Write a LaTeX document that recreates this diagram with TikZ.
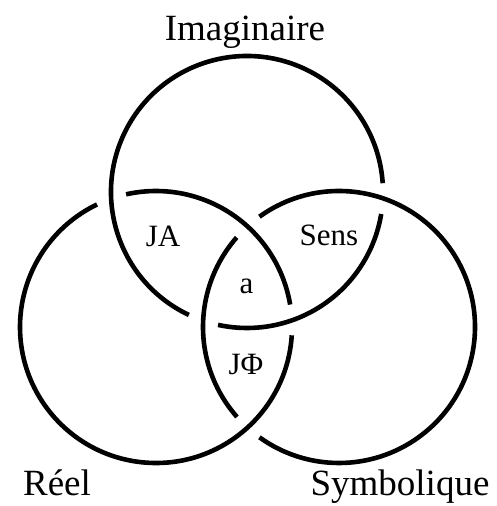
\documentclass[tikz,border=0pt]{standalone}
\usepackage{fontspec}
\setmainfont{Liberation Serif}
\usetikzlibrary{positioning}

\begin{document}
\begin{tikzpicture}[x=1pt,y=-1pt,
    ring/.style={line width=4.6pt},
    bigname/.style={anchor=base,inner sep=0pt,font=\fontsize{37}{40}\selectfont},
    smallname/.style={anchor=base,inner sep=0pt,font=\fontsize{31}{34}\selectfont}]
  \useasboundingbox (0,0) rectangle (496,506);
  \coordinate (I) at (247,192);
  \coordinate (R) at (156,327);
  \coordinate (S) at (339,327);
  \draw [ring] (I) ++(9.3:136) arc [start angle=9.3,end angle=102.3,radius=136];
  \draw [ring] (I) ++(115.3:136) arc [start angle=115.3,end angle=356.3,radius=136];
  \draw [ring] (R) ++(257.3:136) arc [start angle=257.3,end angle=350.5,radius=136];
  \draw [ring] (R) ++(3.5:136) arc [start angle=3.5,end angle=244.3,radius=136];
  \draw [ring] (S) ++(138.6:136) arc [start angle=138.6,end angle=221.2,radius=136];
  \draw [ring] (S) ++(234.2:136) arc [start angle=234.2,end angle=485.8,radius=136];
  \node [bigname] (imaginaire) at (245,40) {Imaginaire};
  \node [bigname] (reel) at (57,495) {Réel};
  \node [bigname] (symbolique) at (400,495) {Symbolique};
  \node [smallname] (ja) at (163,246) {JA};
  \node [smallname] (sens) at (329,245) {Sens};
  \node [smallname] (a) at (246.5,293) {a};
  \node [smallname] (jphi) at (246,374) {JΦ};
\end{tikzpicture}
\end{document}
